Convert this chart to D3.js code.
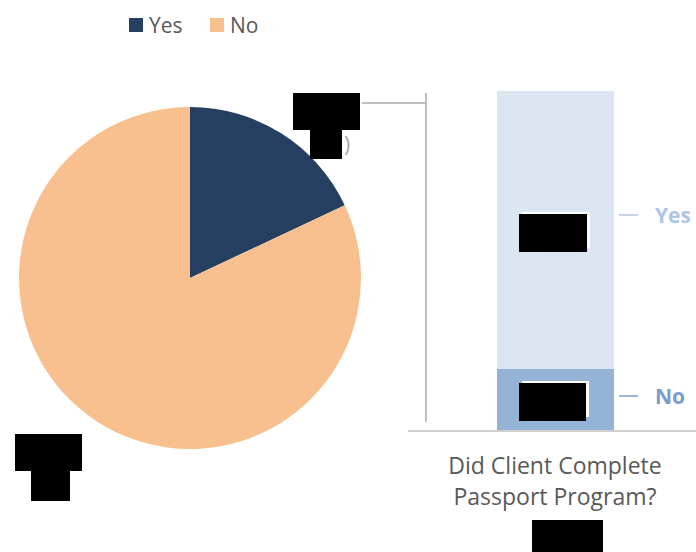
<!DOCTYPE html>
<html><head><meta charset="utf-8">
<script src="https://cdn.jsdelivr.net/npm/d3@7"></script>
<style>body{margin:0;background:#fff;} svg{display:block;font-family:"Open Sans","Liberation Sans",sans-serif;}</style>
</head><body><div id="chart"></div>
<script>
const pieCategories = ["Yes", "No"];
const pieValues = [18, 82];
const barCategories = ["No", "Yes"];
const barValues = [18, 82];
const titleLines = ["Did Client Complete", "Passport Program?"];
const pieColors = {Yes: "#243f60", No: "#f9c08f"};
const barColors = {Yes: "#dce6f2", No: "#95b3d7"};
const barLabelColors = {Yes: "#aec5e4", No: "#7a9ccf"};

const W = 696, H = 552;
const svg = d3.select("#chart").append("svg").attr("width", W).attr("height", H);

// Legend
const legend = svg.append("g");
const legX = [129, 210];
pieCategories.forEach((c, i) => {
  legend.append("rect").attr("x", legX[i]).attr("y", 18).attr("width", 14).attr("height", 14).attr("fill", pieColors[c]);
  legend.append("text").attr("x", legX[i] + 20).attr("y", 33).attr("font-size", 21).attr("fill", "#595959").text(c);
});

// Pie
const cx = 190, cy = 278, r = 171;
const pie = d3.pie().sort(null).value(d => d.v);
const arc = d3.arc().innerRadius(0).outerRadius(r);
const pieData = pie(pieCategories.map((c, i) => ({c, v: pieValues[i]})));
svg.append("g").attr("transform", `translate(${cx},${cy})`)
  .selectAll("path").data(pieData).join("path")
  .attr("d", arc).attr("fill", d => pieColors[d.data.c]);

// Connector lines
svg.append("line").attr("x1", 362).attr("y1", 103).attr("x2", 426).attr("y2", 103).attr("stroke", "#bfbfbf").attr("stroke-width", 2);
svg.append("line").attr("x1", 426).attr("y1", 93).attr("x2", 426).attr("y2", 422).attr("stroke", "#bfbfbf").attr("stroke-width", 2);

// Stacked bar
const x = d3.scaleBand().domain(["Passport"]).range([497, 614]).padding(0);
const y = d3.scaleLinear().domain([0, 100]).range([430, 91]);
let acc = 0;
const segs = barCategories.map((c, i) => { const s = {c, y0: acc, y1: acc + barValues[i]}; acc += barValues[i]; return s; });
const bx = x("Passport"), bw = x.bandwidth();
svg.append("g").selectAll("rect").data(segs).join("rect")
  .attr("x", bx).attr("width", bw)
  .attr("y", d => y(d.y1)).attr("height", d => y(d.y0) - y(d.y1))
  .attr("fill", d => barColors[d.c]);

// x axis line
svg.append("line").attr("x1", 408).attr("y1", 431).attr("x2", 696).attr("y2", 431).attr("stroke", "#bfbfbf").attr("stroke-width", 1.5);

// series labels
segs.forEach(s => {
  const ym = s.c === "Yes" ? 215 : 396;
  svg.append("line").attr("x1", bx + bw + 5).attr("x2", bx + bw + 24).attr("y1", ym).attr("y2", ym)
    .attr("stroke", barLabelColors[s.c]).attr("stroke-width", 1.5);
  svg.append("text").attr("x", bx + bw + 41).attr("y", ym + 8).attr("font-size", 21).attr("font-weight", "bold")
    .attr("fill", barLabelColors[s.c]).text(s.c);
});

// Title
svg.append("text").attr("x", 555).attr("y", 474).attr("text-anchor", "middle").attr("font-size", 23).attr("fill", "#595959")
  .selectAll("tspan").data(titleLines).join("tspan").attr("x", 555).attr("dy", (d, i) => i ? 31 : 0).text(d => d);

// Redaction boxes (as in the reference)
const red = [
  [293, 93, 67, 37], [310, 129, 32, 30],
  [15, 434, 67, 37], [31, 470, 39, 31],
  [532, 520, 71, 32]
];
red.forEach(b => svg.append("rect").attr("x", b[0]).attr("y", b[1]).attr("width", b[2]).attr("height", b[3]).attr("fill", "#000"));
svg.append("text").attr("x", 344).attr("y", 152).attr("font-size", 21).attr("fill", "#a6a6a6").text(")");
// bar value label redactions with white offset
[[519, 214, 68, 38], [519, 383, 67, 38]].forEach(b => {
  svg.append("rect").attr("x", b[0] + 3).attr("y", b[1] - 2).attr("width", b[2]).attr("height", b[3] - 2).attr("fill", "#fff");
  svg.append("rect").attr("x", b[0]).attr("y", b[1]).attr("width", b[2]).attr("height", b[3]).attr("fill", "#000");
});
</script></body></html>
